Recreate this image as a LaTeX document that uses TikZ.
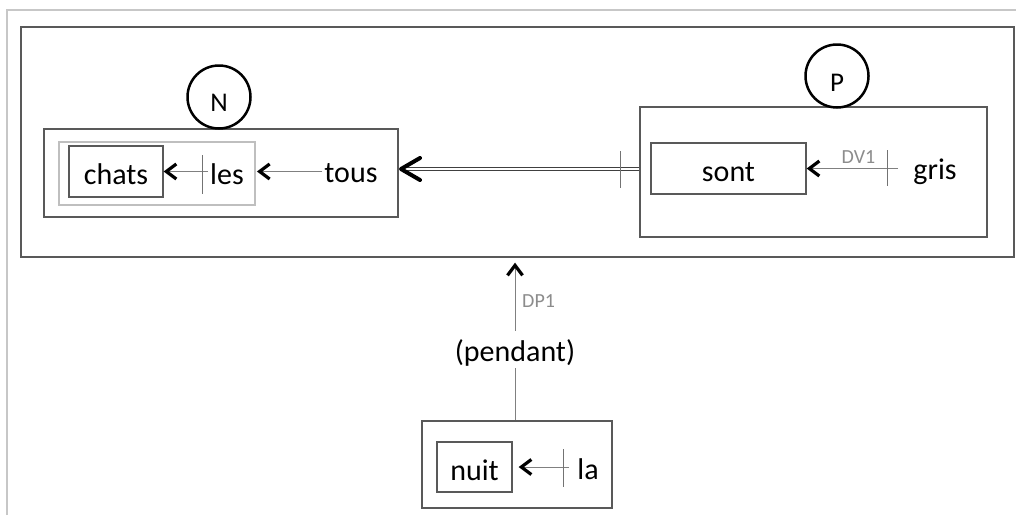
\documentclass[tikz,border=0pt]{standalone}
\usepackage{fontspec}
\setmainfont{Carlito}
\usetikzlibrary{arrows.meta,calc}
\begin{document}
\begin{tikzpicture}[x=1pt,y=-1pt,
  box/.style={draw=black!65, line width=1.3pt, rectangle, inner sep=0pt},
  softbox/.style={draw=black!25, line width=1.3pt, rectangle, inner sep=0pt},
  word/.style={font=\fontsize{30}{30}\selectfont, inner sep=2pt, anchor=base},
  circ/.style={circle, draw=black, line width=2.5pt, inner sep=0pt, minimum size=63pt,
    font=\fontsize{27}{27}\selectfont, text depth=0pt},
  link/.style={draw=black!50, line width=1pt,
    -{Straight Barb[length=10pt,width=15pt,line width=3.2pt,color=black]}},
  plain/.style={draw=black!50, line width=1pt},
  tickmark/.style={draw=black!55, line width=1pt},
  lbl/.style={text=black!45, font=\fontsize{20}{20}\selectfont, inner sep=0pt},
]
\useasboundingbox (0,0) rectangle (1016,515);
\fill[white] (0,0) rectangle (1016,515);
\draw[black!22, line width=2pt] (7,515) -- (7,10) -- (1016,10);

% main frame
\node[box, minimum width=993pt, minimum height=230pt] (main) at (517.5,142) {};

% N group
\node[box, minimum width=354pt, minimum height=88pt] (Nbox) at (221,173) {};
\node[softbox, minimum width=196pt, minimum height=63pt] (grp) at (157,173.5) {};
\node[box, minimum width=94pt, minimum height=51pt] (chats) at (116,171.5) {};
\node[word] (chatsw) at (116,184) {chats};
\node[word] (les) at (227,184) {les};
\node[word] (tous) at (351,182) {tous};
\node[circ, text height=28pt] (Ncirc) at (219,97) {N};

\draw[link] (les.west |- chats.east) -- (chats.east);
\draw[tickmark] (202,155) -- (202,194);
\draw[link, shorten >=11pt] (tous.west |- chats.east) -- (les.east |- chats.east);

% P group
\node[box, minimum width=347pt, minimum height=130pt] (Pbox) at (813.5,172) {};
\node[box, minimum width=155pt, minimum height=51pt] (sont) at (728.5,168.5) {};
\node[word] (sontw) at (728.5,181) {sont};
\node[word] (gris) at (935,179) {gris};
\node[circ, text height=30pt] (Pcirc) at (837,76) {P};
\node[lbl, anchor=base] (dv) at (858.5,163) {DV1};

\draw[link, shorten <=13pt] (gris.west |- sont.east) -- (sont.east);
\draw[tickmark] (887,150) -- (887,186);

% double connector P -> N
\coordinate (dtip) at (401,169);
\draw[double=white, double distance=2pt, draw=black!75, line width=1pt]
  (Pbox.west |- dtip) -- ($(dtip)+(3,0)$);
\draw[black, line width=4pt, line cap=round, line join=round]
  ($(dtip)+(19,-11)$) -- (dtip) -- ($(dtip)+(19,11)$);
\draw[tickmark] (620,151) -- (620,188);

% bottom
\node[word] (pendant) at (515,361) {(pendant)};
\node[lbl, anchor=base west] (dp) at (522,307) {DP1};
\draw[link, shorten >=5pt] ($(pendant.north)+(0,-6)$) -- (pendant.north |- main.south);
\node[box, minimum width=190pt, minimum height=87pt] (bot) at (517,464.5) {};
\draw[plain] (pendant.south) -- (pendant.south |- bot.north);
\node[box, minimum width=75pt, minimum height=50pt] (nuit) at (474.5,467) {};
\node[word] (nuitw) at (474.5,480) {nuit};
\node[word] (la) at (588,479) {la};
\draw[link, shorten <=6pt, shorten >=6pt] (la.west |- nuit.east) -- (nuit.east);
\draw[tickmark] (563,449) -- (563,487);
\end{tikzpicture}
\end{document}
